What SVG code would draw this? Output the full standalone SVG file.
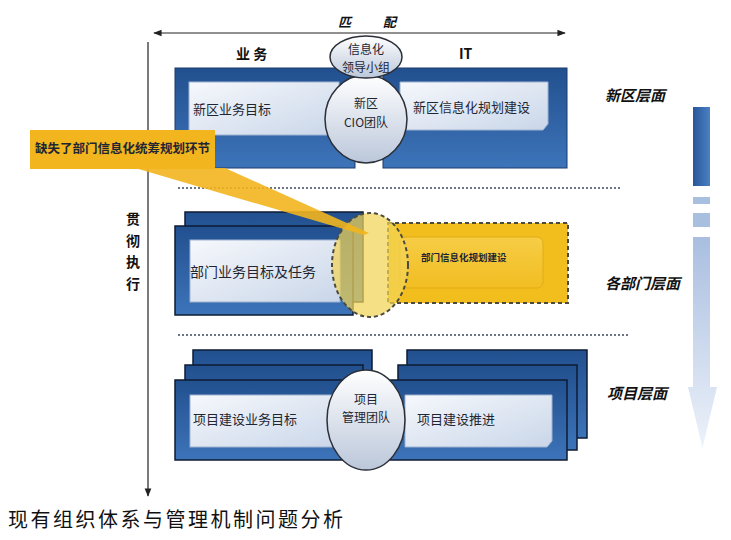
<svg xmlns="http://www.w3.org/2000/svg" width="731" height="540" viewBox="0 0 731 540">
<defs>
<linearGradient id="gBlock" x1="0" y1="0" x2="0" y2="1">
<stop offset="0" stop-color="#22508F"/>
<stop offset="1" stop-color="#3D74B9"/>
</linearGradient>
<linearGradient id="gPanel" x1="0" y1="0" x2="1" y2="1">
<stop offset="0" stop-color="#F6F8FC"/>
<stop offset="1" stop-color="#C9D6E9"/>
</linearGradient>
<linearGradient id="gEll" x1="0" y1="0" x2="0" y2="1">
<stop offset="0" stop-color="#FFFFFF"/>
<stop offset="1" stop-color="#BBC7DA"/>
</linearGradient>
<linearGradient id="gArrTop" x1="0" y1="0" x2="1" y2="0">
<stop offset="0" stop-color="#26579A"/>
<stop offset="1" stop-color="#4C80C2"/>
</linearGradient>
<linearGradient id="gArr" x1="0" y1="0" x2="0" y2="1">
<stop offset="0" stop-color="#A9BEE0"/>
<stop offset="1" stop-color="#EDF2FA"/>
</linearGradient>
<linearGradient id="gYellowPanel" x1="0" y1="0" x2="0" y2="1">
<stop offset="0" stop-color="#F7CD45"/>
<stop offset="1" stop-color="#F1BD22"/>
</linearGradient>
<marker id="mHead" viewBox="0 0 10 10" refX="9" refY="5" markerWidth="7" markerHeight="7" orient="auto-start-reverse">
<path d="M0,1 L10,5 L0,9 Z" fill="#222"/>
</marker>
</defs>
<style>
.blk{fill:url(#gBlock);stroke:#0E1B33;stroke-width:1.5}
.blkTop{fill:url(#gBlock);stroke:#1A3A6A;stroke-width:1}
.pnl{fill:url(#gPanel);stroke:#9FB3D0;stroke-width:1}
.ell{fill:url(#gEll);stroke:#2B2F38;stroke-width:1.5}
.t{font-family:"Noto Sans CJK SC","Liberation Sans",sans-serif;fill:#1E2633}
.bt{font-family:"Noto Sans CJK SC","Liberation Sans",sans-serif;fill:#111;font-weight:bold}
.lvl{font-family:"Noto Sans CJK SC","Liberation Sans",sans-serif;fill:#111;font-weight:bold;font-style:italic;font-size:15px}
.sep{stroke:#3A4A60;stroke-width:1.5;stroke-dasharray:2 2;fill:none}
.axis{stroke:#222;stroke-width:1.2;fill:none}
</style>
<rect width="731" height="540" fill="#FFFFFF"/>

<g id="connectors">
<line class="axis" x1="154" y1="33" x2="565" y2="33" marker-start="url(#mHead)" marker-end="url(#mHead)"/>
<line class="axis" x1="148" y1="42" x2="148" y2="496" marker-end="url(#mHead)"/>
<line class="sep" x1="178" y1="188" x2="622" y2="188"/>
<line class="sep" x1="178" y1="335" x2="628" y2="335"/>
</g>

<g id="axis-labels">
<text class="bt" x="338" y="27" font-size="13" font-style="italic">匹</text>
<text class="bt" x="383" y="27" font-size="13" font-style="italic">配</text>
<text class="bt" x="236" y="59" font-size="14">业 务</text>
<text class="bt" x="459" y="59" font-size="14" font-family="Liberation Serif">IT</text>
<text class="bt" x="133" y="224" font-size="14" text-anchor="middle">贯</text>
<text class="bt" x="133" y="246" font-size="14" text-anchor="middle">彻</text>
<text class="bt" x="133" y="267" font-size="14" text-anchor="middle">执</text>
<text class="bt" x="133" y="289" font-size="14" text-anchor="middle">行</text>
</g>

<g id="level-xinqu">
<rect class="blkTop" x="175" y="68" width="180" height="100"/>
<rect class="blkTop" x="383" y="68" width="184" height="100"/>
<rect class="pnl" x="189" y="82" width="150" height="53"/>
<path class="pnl" d="M400,82 H548 V124 L543,130 H400 Z"/>
<text class="t" x="193" y="114" font-size="13">新区业务目标</text>
<text class="t" x="413" y="112" font-size="13">新区信息化规划建设</text>
</g>

<g id="cio-team">
<ellipse class="ell" cx="366" cy="119" rx="41" ry="44"/>
<text class="t" x="366" y="108" font-size="12" text-anchor="middle">新区</text>
<text class="t" x="366" y="127" font-size="12" text-anchor="middle">CIO团队</text>
</g>

<g id="leader-group">
<ellipse class="ell" cx="366" cy="57" rx="36" ry="21"/>
<text class="t" x="366" y="54" font-size="12" text-anchor="middle">信息化</text>
<text class="t" x="366" y="72" font-size="12" text-anchor="middle">领导小组</text>
</g>

<g id="level-dept-business">
<rect class="blk" x="185" y="212" width="178" height="90"/>
<rect class="blk" x="175" y="226" width="178" height="89"/>
<rect class="pnl" x="190" y="240" width="150" height="62"/>
<text class="t" x="190" y="277" font-size="14">部门业务目标及任务</text>
</g>

<g id="level-dept-it">
<rect x="388" y="223" width="180" height="80" fill="#F2BE1E" stroke="#4A4A40" stroke-width="2" stroke-dasharray="4 3"/>
<rect x="400" y="237" width="143" height="51" rx="6" fill="url(#gYellowPanel)" stroke="#E2AC14" stroke-width="1"/>
<text class="t" x="421" y="261" font-size="9.5" font-weight="bold" fill="#2A2410">部门信息化规划建设</text>
</g>

<g id="gap-circle">
<ellipse cx="370" cy="265" rx="38" ry="52" fill="#F3D458" fill-opacity="0.72" stroke="#4A4A40" stroke-width="2" stroke-dasharray="4 3"/>
</g>

<g id="callout">
<polygon points="135,168 225,168 369,233 364,235" fill="#F2B51E" fill-opacity="0.9"/>
<rect x="30" y="130" width="185" height="39" fill="#F2B51E"/>
<text class="t" x="35" y="153" font-size="12.5" font-weight="bold" fill="#3A2A10">缺失了部门信息化统筹规划环节</text>
</g>

<g id="level-project-business">
<rect class="blk" x="193" y="350" width="179" height="88"/>
<rect class="blk" x="185" y="365" width="178" height="85"/>
<rect class="blk" x="175" y="380" width="178" height="80"/>
<rect class="pnl" x="190" y="395" width="155" height="52"/>
<text class="t" x="193" y="424" font-size="13">项目建设业务目标</text>
</g>

<g id="level-project-it">
<rect class="blk" x="407" y="350" width="180" height="88"/>
<rect class="blk" x="398" y="365" width="179" height="85"/>
<rect class="blk" x="390" y="380" width="177" height="80"/>
<path class="pnl" d="M405,395 H552 V441 L547,447 H405 Z"/>
<text class="t" x="417" y="424" font-size="13">项目建设推进</text>
</g>

<g id="project-team">
<ellipse class="ell" cx="366" cy="420" rx="39" ry="50"/>
<text class="t" x="366" y="404" font-size="12" text-anchor="middle">项目</text>
<text class="t" x="366" y="422" font-size="12" text-anchor="middle">管理团队</text>
</g>

<g id="level-labels">
<text class="lvl" x="605" y="101">新区层面</text>
<text class="lvl" x="605" y="289">各部门层面</text>
<text class="lvl" x="607" y="399">项目层面</text>
</g>

<g id="level-arrow">
<rect x="693" y="107" width="17" height="79" fill="url(#gArrTop)"/>
<rect x="693" y="197" width="17" height="7" fill="#A9BFDF"/>
<rect x="693" y="213" width="17" height="14" fill="#A9BFDF"/>
<path d="M693,237 H710 V387 H717 L702.5,448 L688,387 H693 Z" fill="url(#gArr)"/>
</g>

<g id="caption">
<text x="8" y="527" font-size="20" textLength="335" font-family="Liberation Serif, Noto Sans CJK SC, serif" fill="#111">现有组织体系与管理机制问题分析</text>
</g>
</svg>
